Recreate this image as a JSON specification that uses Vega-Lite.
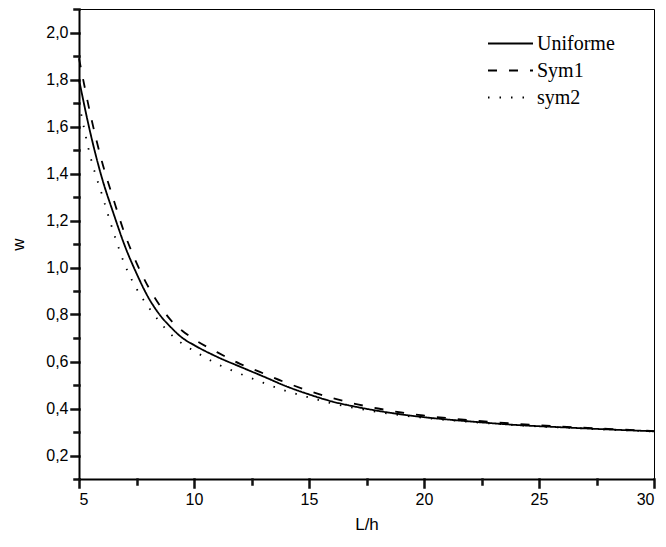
{
  "$schema": "https://vega.github.io/schema/vega-lite/v6.json",
  "width": 575,
  "height": 470,
  "autosize": {"type": "none"},
  "padding": {"left": 79, "top": 9, "right": 12, "bottom": 68},
  "background": "white",
  "config": {
    "view": {"stroke": "black", "strokeWidth": 1},
    "font": "Liberation Sans",
    "axis": {"gridOpacity": 0, "domainColor": "black", "domainWidth": 2}
  },
  "data": {
    "values": [
      {"x": 5, "w": 1.80, "s": "Uniforme"},
      {"x": 5.5, "w": 1.57, "s": "Uniforme"},
      {"x": 6, "w": 1.38, "s": "Uniforme"},
      {"x": 6.5, "w": 1.23, "s": "Uniforme"},
      {"x": 7, "w": 1.09, "s": "Uniforme"},
      {"x": 7.5, "w": 0.975, "s": "Uniforme"},
      {"x": 8, "w": 0.875, "s": "Uniforme"},
      {"x": 8.5, "w": 0.80, "s": "Uniforme"},
      {"x": 9, "w": 0.745, "s": "Uniforme"},
      {"x": 9.5, "w": 0.70, "s": "Uniforme"},
      {"x": 10, "w": 0.67, "s": "Uniforme"},
      {"x": 11, "w": 0.62, "s": "Uniforme"},
      {"x": 12, "w": 0.578, "s": "Uniforme"},
      {"x": 13, "w": 0.537, "s": "Uniforme"},
      {"x": 14, "w": 0.495, "s": "Uniforme"},
      {"x": 15, "w": 0.46, "s": "Uniforme"},
      {"x": 16, "w": 0.43, "s": "Uniforme"},
      {"x": 17, "w": 0.408, "s": "Uniforme"},
      {"x": 18, "w": 0.39, "s": "Uniforme"},
      {"x": 19, "w": 0.375, "s": "Uniforme"},
      {"x": 20, "w": 0.363, "s": "Uniforme"},
      {"x": 22, "w": 0.345, "s": "Uniforme"},
      {"x": 24, "w": 0.33, "s": "Uniforme"},
      {"x": 26, "w": 0.32, "s": "Uniforme"},
      {"x": 28, "w": 0.311, "s": "Uniforme"},
      {"x": 30, "w": 0.303, "s": "Uniforme"},
      {"x": 5, "w": 1.89, "s": "Sym1"},
      {"x": 5.5, "w": 1.65, "s": "Sym1"},
      {"x": 6, "w": 1.45, "s": "Sym1"},
      {"x": 6.5, "w": 1.29, "s": "Sym1"},
      {"x": 7, "w": 1.14, "s": "Sym1"},
      {"x": 7.5, "w": 1.02, "s": "Sym1"},
      {"x": 8, "w": 0.92, "s": "Sym1"},
      {"x": 8.5, "w": 0.84, "s": "Sym1"},
      {"x": 9, "w": 0.775, "s": "Sym1"},
      {"x": 9.5, "w": 0.73, "s": "Sym1"},
      {"x": 10, "w": 0.695, "s": "Sym1"},
      {"x": 11, "w": 0.64, "s": "Sym1"},
      {"x": 12, "w": 0.59, "s": "Sym1"},
      {"x": 13, "w": 0.55, "s": "Sym1"},
      {"x": 14, "w": 0.51, "s": "Sym1"},
      {"x": 15, "w": 0.475, "s": "Sym1"},
      {"x": 16, "w": 0.445, "s": "Sym1"},
      {"x": 17, "w": 0.42, "s": "Sym1"},
      {"x": 18, "w": 0.40, "s": "Sym1"},
      {"x": 19, "w": 0.383, "s": "Sym1"},
      {"x": 20, "w": 0.37, "s": "Sym1"},
      {"x": 22, "w": 0.35, "s": "Sym1"},
      {"x": 24, "w": 0.335, "s": "Sym1"},
      {"x": 26, "w": 0.323, "s": "Sym1"},
      {"x": 28, "w": 0.313, "s": "Sym1"},
      {"x": 30, "w": 0.304, "s": "Sym1"},
      {"x": 5, "w": 1.70, "s": "sym2"},
      {"x": 5.5, "w": 1.47, "s": "sym2"},
      {"x": 6, "w": 1.31, "s": "sym2"},
      {"x": 6.5, "w": 1.15, "s": "sym2"},
      {"x": 7, "w": 1.01, "s": "sym2"},
      {"x": 7.5, "w": 0.91, "s": "sym2"},
      {"x": 8, "w": 0.835, "s": "sym2"},
      {"x": 8.5, "w": 0.77, "s": "sym2"},
      {"x": 9, "w": 0.715, "s": "sym2"},
      {"x": 9.5, "w": 0.675, "s": "sym2"},
      {"x": 10, "w": 0.645, "s": "sym2"},
      {"x": 11, "w": 0.59, "s": "sym2"},
      {"x": 12, "w": 0.548, "s": "sym2"},
      {"x": 13, "w": 0.51, "s": "sym2"},
      {"x": 14, "w": 0.475, "s": "sym2"},
      {"x": 15, "w": 0.447, "s": "sym2"},
      {"x": 16, "w": 0.422, "s": "sym2"},
      {"x": 17, "w": 0.402, "s": "sym2"},
      {"x": 18, "w": 0.385, "s": "sym2"},
      {"x": 19, "w": 0.371, "s": "sym2"},
      {"x": 20, "w": 0.36, "s": "sym2"},
      {"x": 22, "w": 0.343, "s": "sym2"},
      {"x": 24, "w": 0.329, "s": "sym2"},
      {"x": 26, "w": 0.319, "s": "sym2"},
      {"x": 28, "w": 0.31, "s": "sym2"},
      {"x": 30, "w": 0.302, "s": "sym2"}
    ]
  },
  "resolve": {"axis": {"x": "independent", "y": "independent"}},
  "layer": [
    {
      "mark": {"type": "line", "color": "black", "strokeWidth": 1.8, "interpolate": "monotone"},
      "encoding": {
        "x": {
          "field": "x", "type": "quantitative",
          "scale": {"domain": [5, 30], "nice": false, "zero": false},
          "axis": {
            "orient": "bottom",
            "title": "L/h",
            "tickCount": 5,
            "tickColor": "#111111", "tickWidth": 2.5, "tickSize": 8, "tickCap": "square",
            "labelFont": "Liberation Sans", "labelFontSize": 16, "labelColor": "black",
            "labelPadding": 4,
            "titleFont": "Liberation Sans", "titleFontSize": 17, "titleFontWeight": "normal", "titleColor": "black",
            "titlePadding": 9
          }
        },
        "y": {
          "field": "w", "type": "quantitative",
          "scale": {"domain": [0.1, 2.1], "nice": false, "zero": false},
          "axis": {
            "orient": "left",
            "title": "w",
            "values": [0.2, 0.4, 0.6, 0.8, 1.0, 1.2, 1.4, 1.6, 1.8, 2.0],
            "labelExpr": "replace(format(datum.value, '.1f'), '.', ',')",
            "tickColor": "#111111", "tickWidth": 2.5, "tickSize": 8, "tickCap": "square",
            "labelFont": "Liberation Sans", "labelFontSize": 16, "labelColor": "black",
            "labelPadding": 3,
            "titleFont": "Liberation Sans", "titleFontSize": 17, "titleFontWeight": "normal", "titleColor": "black",
            "titlePadding": 18
          }
        },
        "strokeDash": {
          "field": "s", "type": "nominal",
          "scale": {"domain": ["Uniforme", "Sym1", "sym2"], "range": [[1, 0], [9, 12], [1.5, 10]]},
          "legend": {
            "title": null,
            "orient": "none",
            "legendX": 419,
            "legendY": 22,
            "padding": 0,
            "symbolType": "M-2,0H2",
            "symbolSize": 506,
            "symbolStrokeWidth": 2,
            "symbolStrokeColor": "black",
            "labelFont": "Liberation Serif",
            "labelFontSize": 20,
            "labelColor": "black",
            "labelOffset": 14,
            "rowPadding": 4,
            "labelLimit": 200
          }
        }
      }
    },
    {
      "mark": {"type": "line", "opacity": 0},
      "encoding": {
        "x": {
          "field": "x", "type": "quantitative",
          "axis": {
            "orient": "bottom",
            "title": null,
            "values": [7.5, 12.5, 17.5, 22.5, 27.5],
            "labels": false, "domain": false,
            "tickColor": "#111111", "tickWidth": 2.5, "tickSize": 5, "tickCap": "square"
          }
        },
        "y": {
          "field": "w", "type": "quantitative",
          "axis": {
            "orient": "left",
            "title": null,
            "values": [0.1, 0.3, 0.5, 0.7, 0.9, 1.1, 1.3, 1.5, 1.7, 1.9, 2.1],
            "labels": false, "domain": false,
            "tickColor": "#111111", "tickWidth": 2.5, "tickSize": 5, "tickCap": "square"
          }
        },
        "detail": {"field": "s", "type": "nominal"}
      }
    }
  ]
}
